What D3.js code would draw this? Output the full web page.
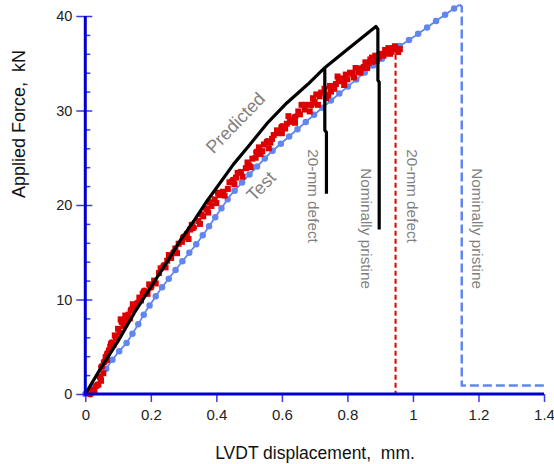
<!DOCTYPE html>
<html><head><meta charset="utf-8">
<script src="https://cdn.jsdelivr.net/npm/d3@7"></script>
<style>
html,body{margin:0;padding:0;background:#fff;}
svg{display:block;font-family:"Liberation Sans",Arial,sans-serif;}
</style></head>
<body>
<svg id="chart" width="554" height="464"></svg>
<script>
// ---------- data ----------
const xTicks = [0, 0.2, 0.4, 0.6, 0.8, 1, 1.2, 1.4];
const xTickLabels = ["0", "0.2", "0.4", "0.6", "0.8", "1", "1.2", "1.4"];
const yTicks = [0, 10, 20, 30, 40];
const yTickLabels = ["0", "10", "20", "30", "40"];
const yMinorTicks = [2,4,6,8,12,14,16,18,22,24,26,28,32,34,36,38];

// Predicted (black) – common part up to the branch point
const predictedCommon = [[0,0],[0.045,2.6],[0.1,5.6],[0.15,8.6],[0.2,11.3],[0.25,14.0],[0.289,16.2],[0.335,18.5],[0.371,20.4],[0.452,24.3],[0.5,26.3],[0.554,28.6],[0.615,30.8],[0.68,32.8],[0.73,34.5]];
// Predicted, 20-mm defect: failure drop
const predictedDefectDrop = [[0.73,34.5],[0.731,34.3],[0.731,27.9],[0.736,27.7],[0.736,21.2]];
// Predicted, nominally pristine: continues to peak then drops
const predictedPristine = [[0.73,34.5],[0.808,36.7],[0.887,38.9],[0.893,38.6],[0.893,33.2],[0.897,33.0],[0.897,17.4]];

// Test, nominally pristine (blue)
const testPristine = [[0,0],[0.035,1.1],[0.055,2.2],[0.075,3.25],[0.1,4.4],[0.126,5.4],[0.157,7.1],[0.187,8.9],[0.228,11.0],[0.259,12.4],[0.3,14.2],[0.34,15.9],[0.37,17.35],[0.442,21.0],[0.5,23.2],[0.564,25.5],[0.65,28.1],[0.727,30.4],[0.8,32.5],[0.894,35.2],[0.95,36.6],[1.011,38.0],[1.08,39.7],[1.142,41.2]];
const testPristineFail = [[1.142,41.2],[1.149,41.0],[1.149,0.9],[1.4,0.9]];

// Test, 20-mm defect (red) – scattered measurements
const testDefectCircles = [[0.015,0.0],[0.022,0.4],[0.035,0.9],[0.045,1.8],[0.05,2.9],[0.058,3.4],[0.068,4.3],[0.08,5.4],[0.095,5.9],[0.112,7.6],[0.125,7.9],[0.14,8.9],[0.158,9.6],[0.18,10.9],[0.2,11.3],[0.24,13.6],[0.27,15.0],[0.3,16.6],[0.33,17.6],[0.37,19.6],[0.41,21.1],[0.45,22.6],[0.5,24.2],[0.523,25.6],[0.555,26.7],[0.6,28.3],[0.64,29.3],[0.69,30.6],[0.74,31.6],[0.79,33.2],[0.84,34.4],[0.88,35.2],[0.92,36.1],[0.95,36.5]];
const testDefectSquares = [[0.04,1.0],[0.055,2.2],[0.062,3.9],[0.072,4.6],[0.086,5.2],[0.1,6.9],[0.118,7.2],[0.132,8.4],[0.15,9.3],[0.165,10.2],[0.19,10.6],[0.21,12.0],[0.225,12.8],[0.25,14.1],[0.262,14.4],[0.285,15.9],[0.31,16.9],[0.32,17.4],[0.345,18.3],[0.36,18.8],[0.385,19.9],[0.395,20.6],[0.42,21.4],[0.435,21.7],[0.46,22.9],[0.475,23.5],[0.49,23.9],[0.51,24.9],[0.53,26.1],[0.54,25.7],[0.565,26.6],[0.575,27.4],[0.59,27.6],[0.615,28.6],[0.62,29.4],[0.63,28.8],[0.655,29.6],[0.66,30.6],[0.67,30.1],[0.7,30.9],[0.705,31.7],[0.715,31.5],[0.73,32.3],[0.747,32.6],[0.75,32.0],[0.765,32.8],[0.773,33.1],[0.78,33.4],[0.8,33.3],[0.808,34.0],[0.815,33.9],[0.833,34.1],[0.85,34.6],[0.865,35.0],[0.875,35.6],[0.89,35.3],[0.905,35.9],[0.915,36.4],[0.93,36.0],[0.94,36.6],[0.96,36.5]];
const testDefectExtra = [[0.028,0.2],[0.048,1.4],[0.066,3.6],[0.076,5.0],[0.09,6.2],[0.105,6.5],[0.108,7.9],[0.122,8.3],[0.136,8.0],[0.145,9.5],[0.17,9.9],[0.175,10.6],[0.195,11.6],[0.215,11.7],[0.23,13.3],[0.245,13.4],[0.255,14.7],[0.275,15.4],[0.28,14.9],[0.295,16.1],[0.315,16.4],[0.325,17.9],[0.35,18.0],[0.355,19.0],[0.375,19.2],[0.38,20.3],[0.4,20.2],[0.405,21.3],[0.425,21.0],[0.44,22.4],[0.455,22.2],[0.465,23.4],[0.48,23.0],[0.495,24.5],[0.505,24.0],[0.52,25.0],[0.535,25.4],[0.545,26.4],[0.56,26.0],[0.57,27.0],[0.585,27.9],[0.6,27.6],[0.61,28.1],[0.625,29.0],[0.64,28.7],[0.65,29.9],[0.675,30.6],[0.685,29.9],[0.695,31.3],[0.71,30.6],[0.72,31.9],[0.735,31.3],[0.76,32.3],[0.77,33.6],[0.79,32.7],[0.795,33.8],[0.82,33.5],[0.825,34.5],[0.84,34.0],[0.855,35.1],[0.86,34.5],[0.87,35.4],[0.885,35.8],[0.895,35.6],[0.9,36.0],[0.91,35.8],[0.925,36.6],[0.935,36.2],[0.945,36.8],[0.955,36.2]];
const testDefectFail = [[0.947,35.9],[0.947,0]];

// annotation texts
const annotations = [
  {text:"Predicted", x:0.458, y:28.7, angle:-46},
  {text:"Test", x:0.536, y:22.0, angle:-46},
  {text:"20-mm defect", x:0.695, y:20.95, angle:90},
  {text:"Nominally pristine", x:0.857, y:17.5, angle:90},
  {text:"20-mm defect", x:0.999, y:20.95, angle:90},
  {text:"Nominally pristine", x:1.196, y:17.5, angle:90}
];

// ---------- drawing ----------
const svg = d3.select("#chart");
const x = d3.scaleLinear().domain([0, 1.4]).range([85.3, 544]);
const y = d3.scaleLinear().domain([0, 40]).range([394, 16]);
const line = d3.line().x(d => x(d[0])).y(d => y(d[1]));

const axisColor = "#0000cc";
const tickColor = "#3a3ae6";
const gray = "#7f7f7f";
const blue = "#6286f0";
const red = "#dd0000";

// blue test curve: thin line + dots
svg.append("path").datum(testPristine).attr("d", line)
  .attr("fill","none").attr("stroke",blue).attr("stroke-width",1.8);
svg.append("path").datum(testPristine).attr("d", line)
  .attr("fill","none").attr("stroke",blue).attr("stroke-width",6.5)
  .attr("stroke-linecap","round").attr("stroke-dasharray","0 11");
svg.append("path").datum(testPristineFail).attr("d", line)
  .attr("fill","none").attr("stroke",blue).attr("stroke-width",2.5)
  .attr("stroke-dasharray","9 4");

// red test data
svg.append("g").selectAll("rect").data(testDefectSquares.concat(testDefectExtra)).join("rect")
  .attr("x", d => x(d[0]) - 3).attr("y", d => y(d[1]) - 3)
  .attr("width",6).attr("height",6).attr("fill",red);
svg.append("g").selectAll("circle").data(testDefectCircles).join("circle")
  .attr("cx", d => x(d[0])).attr("cy", d => y(d[1])).attr("r",3.6).attr("fill",red);
svg.append("path").datum(testDefectFail).attr("d", line)
  .attr("fill","none").attr("stroke",red).attr("stroke-width",2)
  .attr("stroke-dasharray","5 3");

// predicted (black)
[predictedCommon, predictedDefectDrop, predictedPristine].forEach(s => {
  svg.append("path").datum(s).attr("d", line)
    .attr("fill","none").attr("stroke","#000").attr("stroke-width",3.2)
    .attr("stroke-linejoin","round");
});

// annotations
annotations.forEach(a => {
  svg.append("text")
    .attr("transform", `translate(${x(a.x)},${y(a.y)}) rotate(${a.angle})`)
    .attr("text-anchor","middle").attr("dy","0.35em")
    .attr("fill", gray)
    .attr("font-size", a.angle === 90 ? "15.3px" : "18px")
    .text(a.text);
});

// axes
const xAxis = d3.axisBottom(x).tickValues(xTicks).tickSize(8).tickPadding(7)
  .tickFormat((d,i) => xTickLabels[i]);
const gx = svg.append("g").attr("transform","translate(0,394)").call(xAxis);
gx.select(".domain").remove();
gx.selectAll(".tick line").attr("stroke", tickColor).attr("stroke-width",1.5);
gx.selectAll(".tick text").attr("font-size","15px").attr("fill","#222")
  .attr("font-family","Liberation Sans, Arial, sans-serif");

const yAxis = d3.axisLeft(y).tickValues(yTicks).tickSize(9).tickPadding(4)
  .tickFormat((d,i) => yTickLabels[i]);
const gy = svg.append("g").attr("transform","translate(85.3,0)").call(yAxis);
gy.select(".domain").remove();
gy.selectAll(".tick line").attr("stroke", tickColor).attr("stroke-width",1.5);
gy.selectAll(".tick text").attr("font-size","14.5px").attr("fill","#222")
  .attr("font-family","Liberation Sans, Arial, sans-serif");

const gyr = svg.append("g").attr("transform","translate(85.3,0)")
  .call(d3.axisRight(y).tickValues(yTicks).tickSize(7).tickFormat(""));
gyr.select(".domain").remove();
gyr.selectAll(".tick line").attr("stroke", tickColor).attr("stroke-width",1.5);

const gym = svg.append("g").attr("transform","translate(85.3,0)")
  .call(d3.axisRight(y).tickValues(yMinorTicks).tickSize(5).tickFormat(""));
gym.select(".domain").remove();
gym.selectAll(".tick line").attr("stroke", tickColor).attr("stroke-width",1.5);

// axis lines
svg.append("line").attr("x1", x(0)).attr("x2", x(0)).attr("y1", y(40)).attr("y2", y(0)+1.5)
  .attr("stroke", axisColor).attr("stroke-width",3);
svg.append("line").attr("x1", x(0)-1.5).attr("x2", x(1.4)).attr("y1", y(0)).attr("y2", y(0))
  .attr("stroke", axisColor).attr("stroke-width",3);

// axis titles
svg.append("text").attr("x", 315).attr("y", 459).attr("text-anchor","middle")
  .attr("font-size","17.5px").attr("fill","#111")
  .style("white-space","pre").text("LVDT displacement,  mm.");
svg.append("text").attr("transform","translate(25,124) rotate(-90)").attr("text-anchor","middle")
  .attr("font-size","18px").attr("fill","#111").style("white-space","pre")
  .text("Applied Force,  kN");
</script>
</body></html>
